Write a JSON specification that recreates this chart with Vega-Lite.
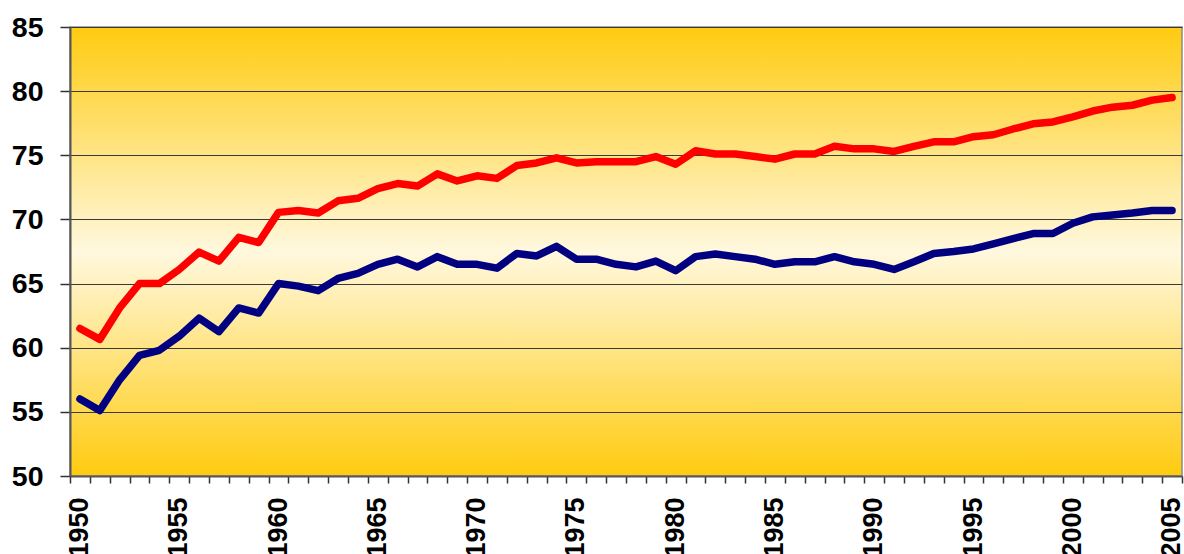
{
  "$schema": "https://vega.github.io/schema/vega-lite/v6.json",
  "width": 1112,
  "height": 449,
  "autosize": {"type": "none"},
  "padding": {"left": 70, "top": 27, "right": 2, "bottom": 78},
  "background": "#ffffff",
  "config": {
    "font": "Liberation Sans",
    "view": {
      "fill": {
        "gradient": "linear",
        "x1": 0, "y1": 0, "x2": 0, "y2": 1,
        "stops": [
          {"offset": 0, "color": "#FFCB10"},
          {"offset": 0.5, "color": "#FFF8DE"},
          {"offset": 1, "color": "#FFCB10"}
        ]
      },
      "stroke": "#8a8a8a",
      "strokeWidth": 1.5
    }
  },
  "data": {
    "values": [
      {"year": 1950, "s": "a", "v": 61.5}, {"year": 1951, "s": "a", "v": 60.65}, {"year": 1952, "s": "a", "v": 63.1}, {"year": 1953, "s": "a", "v": 65.0}, {"year": 1954, "s": "a", "v": 65.0},
      {"year": 1955, "s": "a", "v": 66.1}, {"year": 1956, "s": "a", "v": 67.45}, {"year": 1957, "s": "a", "v": 66.75}, {"year": 1958, "s": "a", "v": 68.6}, {"year": 1959, "s": "a", "v": 68.2},
      {"year": 1960, "s": "a", "v": 70.55}, {"year": 1961, "s": "a", "v": 70.7}, {"year": 1962, "s": "a", "v": 70.5}, {"year": 1963, "s": "a", "v": 71.45}, {"year": 1964, "s": "a", "v": 71.65},
      {"year": 1965, "s": "a", "v": 72.4}, {"year": 1966, "s": "a", "v": 72.8}, {"year": 1967, "s": "a", "v": 72.6}, {"year": 1968, "s": "a", "v": 73.55}, {"year": 1969, "s": "a", "v": 73.0},
      {"year": 1970, "s": "a", "v": 73.4}, {"year": 1971, "s": "a", "v": 73.2}, {"year": 1972, "s": "a", "v": 74.2}, {"year": 1973, "s": "a", "v": 74.4}, {"year": 1974, "s": "a", "v": 74.8},
      {"year": 1975, "s": "a", "v": 74.4}, {"year": 1976, "s": "a", "v": 74.5}, {"year": 1977, "s": "a", "v": 74.5}, {"year": 1978, "s": "a", "v": 74.5}, {"year": 1979, "s": "a", "v": 74.9},
      {"year": 1980, "s": "a", "v": 74.3}, {"year": 1981, "s": "a", "v": 75.35}, {"year": 1982, "s": "a", "v": 75.1}, {"year": 1983, "s": "a", "v": 75.1}, {"year": 1984, "s": "a", "v": 74.9},
      {"year": 1985, "s": "a", "v": 74.7}, {"year": 1986, "s": "a", "v": 75.1}, {"year": 1987, "s": "a", "v": 75.1}, {"year": 1988, "s": "a", "v": 75.7}, {"year": 1989, "s": "a", "v": 75.5},
      {"year": 1990, "s": "a", "v": 75.5}, {"year": 1991, "s": "a", "v": 75.3}, {"year": 1992, "s": "a", "v": 75.7}, {"year": 1993, "s": "a", "v": 76.05}, {"year": 1994, "s": "a", "v": 76.05},
      {"year": 1995, "s": "a", "v": 76.45}, {"year": 1996, "s": "a", "v": 76.6}, {"year": 1997, "s": "a", "v": 77.05}, {"year": 1998, "s": "a", "v": 77.45}, {"year": 1999, "s": "a", "v": 77.6},
      {"year": 2000, "s": "a", "v": 78.0}, {"year": 2001, "s": "a", "v": 78.45}, {"year": 2002, "s": "a", "v": 78.75}, {"year": 2003, "s": "a", "v": 78.9}, {"year": 2004, "s": "a", "v": 79.3},
      {"year": 2005, "s": "a", "v": 79.5},
      {"year": 1950, "s": "b", "v": 56.0}, {"year": 1951, "s": "b", "v": 55.1}, {"year": 1952, "s": "b", "v": 57.5}, {"year": 1953, "s": "b", "v": 59.4}, {"year": 1954, "s": "b", "v": 59.8},
      {"year": 1955, "s": "b", "v": 60.9}, {"year": 1956, "s": "b", "v": 62.3}, {"year": 1957, "s": "b", "v": 61.25}, {"year": 1958, "s": "b", "v": 63.1}, {"year": 1959, "s": "b", "v": 62.7},
      {"year": 1960, "s": "b", "v": 65.0}, {"year": 1961, "s": "b", "v": 64.8}, {"year": 1962, "s": "b", "v": 64.45}, {"year": 1963, "s": "b", "v": 65.4}, {"year": 1964, "s": "b", "v": 65.8},
      {"year": 1965, "s": "b", "v": 66.5}, {"year": 1966, "s": "b", "v": 66.9}, {"year": 1967, "s": "b", "v": 66.3}, {"year": 1968, "s": "b", "v": 67.1}, {"year": 1969, "s": "b", "v": 66.5},
      {"year": 1970, "s": "b", "v": 66.5}, {"year": 1971, "s": "b", "v": 66.2}, {"year": 1972, "s": "b", "v": 67.35}, {"year": 1973, "s": "b", "v": 67.15}, {"year": 1974, "s": "b", "v": 67.9},
      {"year": 1975, "s": "b", "v": 66.9}, {"year": 1976, "s": "b", "v": 66.9}, {"year": 1977, "s": "b", "v": 66.5}, {"year": 1978, "s": "b", "v": 66.3}, {"year": 1979, "s": "b", "v": 66.75},
      {"year": 1980, "s": "b", "v": 66.0}, {"year": 1981, "s": "b", "v": 67.1}, {"year": 1982, "s": "b", "v": 67.3}, {"year": 1983, "s": "b", "v": 67.1}, {"year": 1984, "s": "b", "v": 66.9},
      {"year": 1985, "s": "b", "v": 66.5}, {"year": 1986, "s": "b", "v": 66.7}, {"year": 1987, "s": "b", "v": 66.7}, {"year": 1988, "s": "b", "v": 67.1}, {"year": 1989, "s": "b", "v": 66.7},
      {"year": 1990, "s": "b", "v": 66.5}, {"year": 1991, "s": "b", "v": 66.1}, {"year": 1992, "s": "b", "v": 66.7}, {"year": 1993, "s": "b", "v": 67.35}, {"year": 1994, "s": "b", "v": 67.5},
      {"year": 1995, "s": "b", "v": 67.7}, {"year": 1996, "s": "b", "v": 68.1}, {"year": 1997, "s": "b", "v": 68.5}, {"year": 1998, "s": "b", "v": 68.9}, {"year": 1999, "s": "b", "v": 68.9},
      {"year": 2000, "s": "b", "v": 69.7}, {"year": 2001, "s": "b", "v": 70.2}, {"year": 2002, "s": "b", "v": 70.35}, {"year": 2003, "s": "b", "v": 70.5}, {"year": 2004, "s": "b", "v": 70.7},
      {"year": 2005, "s": "b", "v": 70.7}
    ]
  },
  "mark": {"type": "line", "strokeWidth": 7.5, "strokeCap": "round", "strokeJoin": "round"},
  "encoding": {
    "x": {
      "field": "year",
      "type": "quantitative",
      "scale": {"domain": [1949.5, 2005.5], "nice": false, "zero": false},
      "axis": {
        "title": null,
        "grid": false,
        "values": [1949.5,1950.5,1951.5,1952.5,1953.5,1954.5,1955.5,1956.5,1957.5,1958.5,1959.5,1960.5,1961.5,1962.5,1963.5,1964.5,1965.5,1966.5,1967.5,1968.5,1969.5,1970.5,1971.5,1972.5,1973.5,1974.5,1975.5,1976.5,1977.5,1978.5,1979.5,1980.5,1981.5,1982.5,1983.5,1984.5,1985.5,1986.5,1987.5,1988.5,1989.5,1990.5,1991.5,1992.5,1993.5,1994.5,1995.5,1996.5,1997.5,1998.5,1999.5,2000.5,2001.5,2002.5,2003.5,2004.5,2005.5],
        "labelExpr": "(datum.value + 0.5) % 5 == 0 ? format(datum.value + 0.5, 'd') : ''",
        "labelOffset": 9.5,
        "labelAngle": -90,
        "labelAlign": "right",
        "labelBaseline": "middle",
        "labelFont": "Liberation Sans",
        "labelFontWeight": "bold",
        "labelFontSize": 27,
        "labelColor": "#000000",
        "labelPadding": 14,
        "labelOverlap": false,
        "labelBound": false,
        "labelFlush": false,
        "tickSize": 7,
        "tickColor": "#333333",
        "tickWidth": 1.5,
        "domainColor": "#555555",
        "domainWidth": 2
      }
    },
    "y": {
      "field": "v",
      "type": "quantitative",
      "scale": {"domain": [50, 85], "nice": false, "zero": false},
      "axis": {
        "title": null,
        "values": [50, 55, 60, 65, 70, 75, 80, 85],
        "grid": true,
        "gridColor": "#3a3a3a",
        "gridWidth": 1,
        "labelFont": "Liberation Sans",
        "labelFontWeight": "bold",
        "labelFontSize": 28.5,
        "labelColor": "#000000",
        "labelPadding": 17,
        "labelBaseline": "middle",
        "tickSize": 10,
        "tickColor": "#333333",
        "tickWidth": 1.5,
        "domainColor": "#555555",
        "domainWidth": 2
      }
    },
    "color": {
      "field": "s",
      "type": "nominal",
      "scale": {"domain": ["a", "b"], "range": ["#FF0000", "#000080"]},
      "legend": null
    }
  }
}
